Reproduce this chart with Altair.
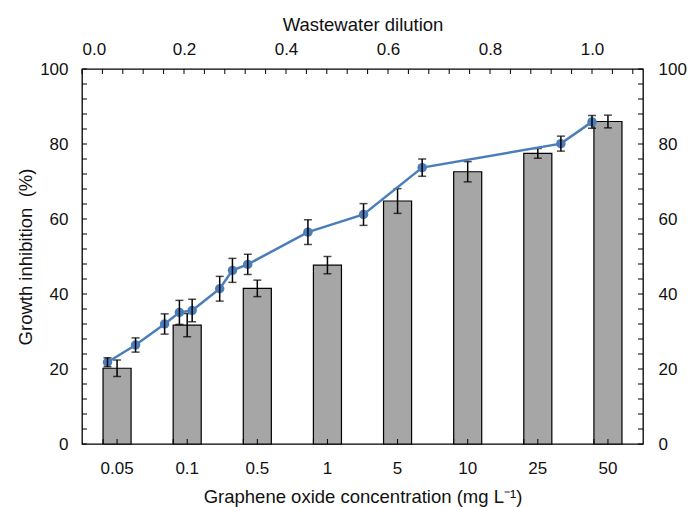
import altair as alt
import pandas as pd

# Graphene oxide exposure: bars on the bottom (categorical) axis
go_conc = ["0.05", "0.1", "0.5", "1", "5", "10", "25", "50"]
go_inhibition = [20.2, 31.7, 41.5, 47.7, 64.8, 72.6, 77.5, 86.0]
go_error = [2.2, 3.1, 2.2, 2.3, 3.3, 2.7, 1.3, 1.7]

# Wastewater dilution series: line on the top (linear) axis
ww_dilution = [0.05, 0.105, 0.162, 0.191, 0.216, 0.27, 0.295, 0.325, 0.443, 0.552, 0.667, 0.939, 1.0]
ww_inhibition = [21.8, 26.4, 32.0, 35.1, 35.6, 41.4, 46.3, 47.9, 56.5, 61.2, 73.7, 80.1, 85.9]
ww_error = [1.2, 1.9, 2.7, 3.2, 3.0, 3.3, 3.2, 2.7, 3.3, 2.9, 2.3, 2.0, 1.7]

# Axis tick positions (ticks are drawn inward, Excel style)
y_label_values = [0, 20, 40, 60, 80, 100]
y_minor_ticks = list(range(0, 101, 4))
top_label_values = [0.0, 0.2, 0.4, 0.6, 0.8, 1.0]
top_minor_ticks = [round(0.04 * i, 2) for i in range(28)]

W, H = 561, 375
TICK = 5
BLUE = "#4a7ebb"
FONT = "Liberation Sans"

bars_df = pd.DataFrame({"conc": go_conc, "inh": go_inhibition, "err": go_error})
bars_df["lo"] = bars_df["inh"] - bars_df["err"]
bars_df["hi"] = bars_df["inh"] + bars_df["err"]

line_df = pd.DataFrame({"dil": ww_dilution, "inh": ww_inhibition, "err": ww_error})
line_df["lo"] = line_df["inh"] - line_df["err"]
line_df["hi"] = line_df["inh"] + line_df["err"]

ytick_df = pd.DataFrame({"t": y_minor_ticks})
xtop_df = pd.DataFrame({"t": top_minor_ticks})
cat_df = pd.DataFrame({"conc": go_conc})

band_scale = alt.Scale(type="band", domain=go_conc, paddingInner=0.6, paddingOuter=0.3)
bottom_axis = alt.Axis(
    orient="bottom", title="Graphene oxide concentration (mg L\u207b\u00b9)",
    labelAngle=0, ticks=False, tickSize=0, domain=False,
    labelPadding=16, titlePadding=11,
)
y_scale = alt.Scale(domain=[0, 100], nice=False, zero=True)
left_axis = alt.Axis(
    orient="left", title="Growth inhibition\u00a0 (%)", values=y_label_values,
    ticks=False, tickSize=0, domain=False, grid=False,
    labelPadding=14, titlePadding=4,
)
top_scale = alt.Scale(domain=[0, 1.1], nice=False, zero=False)
top_axis = alt.Axis(
    orient="top", title="Wastewater dilution", values=top_label_values, format=".1f",
    ticks=False, tickSize=0, domain=False, grid=False,
    labelPadding=11, titlePadding=6,
)
right_axis = alt.Axis(
    orient="right", title=None, values=y_label_values,
    ticks=False, tickSize=0, domain=False, grid=False, labelPadding=15,
)


def xb(field, **kw):
    return alt.X(f"{field}:N", scale=band_scale, axis=bottom_axis, sort=go_conc, **kw)


def yl(field):
    return alt.Y(f"{field}:Q", scale=y_scale, axis=left_axis)


def xt(field):
    return alt.X(f"{field}:Q", scale=top_scale, axis=top_axis)


def yr(field):
    return alt.Y(f"{field}:Q", scale=y_scale, axis=right_axis)


# --- bar group (bottom / left axes) ---
bars = alt.Chart(bars_df).mark_bar(
    color="#a6a6a6", stroke="black", strokeWidth=1.2
).encode(x=xb("conc"), y=yl("inh"))

bar_err = alt.Chart(bars_df).mark_rule(color="black", strokeWidth=1.5).encode(
    x=xb("conc"), y=yl("lo"), y2="hi:Q"
)
bar_cap_hi = alt.Chart(bars_df).mark_tick(
    color="black", thickness=1.5, size=8, orient="horizontal"
).encode(x=xb("conc"), y=yl("hi"))
bar_cap_lo = alt.Chart(bars_df).mark_tick(
    color="black", thickness=1.5, size=8, orient="horizontal"
).encode(x=xb("conc"), y=yl("lo"))

left_ticks = alt.Chart(ytick_df).mark_rule(color="black", strokeWidth=1).encode(
    y=yl("t"), x=alt.value(0), x2=alt.value(TICK)
)
bottom_ticks_mid = alt.Chart(cat_df).mark_rule(color="black", strokeWidth=1).encode(
    x=xb("conc", bandPosition=0.5), y=alt.value(H - TICK), y2=alt.value(H)
)
bottom_ticks_edge = alt.Chart(cat_df).mark_rule(color="black", strokeWidth=1).encode(
    x=xb("conc", bandPosition=0), y=alt.value(H - TICK), y2=alt.value(H)
)

bar_group = alt.layer(
    bars, bottom_ticks_mid, bottom_ticks_edge, left_ticks, bar_err, bar_cap_hi, bar_cap_lo
)

# --- line group (top / right axes) ---
line = alt.Chart(line_df).mark_line(color=BLUE, strokeWidth=2.5).encode(
    x=xt("dil"), y=yr("inh")
)
points = alt.Chart(line_df).mark_circle(color=BLUE, size=90, opacity=1).encode(
    x=xt("dil"), y=yr("inh")
)
line_err = alt.Chart(line_df).mark_rule(color="black", strokeWidth=1.5).encode(
    x=xt("dil"), y=yr("lo"), y2="hi:Q"
)
line_cap_hi = alt.Chart(line_df).mark_tick(
    color="black", thickness=1.5, size=8, orient="horizontal"
).encode(x=xt("dil"), y=yr("hi"))
line_cap_lo = alt.Chart(line_df).mark_tick(
    color="black", thickness=1.5, size=8, orient="horizontal"
).encode(x=xt("dil"), y=yr("lo"))

top_ticks = alt.Chart(xtop_df).mark_rule(color="black", strokeWidth=1).encode(
    x=xt("t"), y=alt.value(0), y2=alt.value(TICK)
)
right_ticks = alt.Chart(ytick_df).mark_rule(color="black", strokeWidth=1).encode(
    y=yr("t"), x=alt.value(W - TICK), x2=alt.value(W)
)

line_group = alt.layer(
    top_ticks, right_ticks, line, points, line_err, line_cap_hi, line_cap_lo
)

chart = (
    alt.layer(bar_group, line_group)
    .resolve_scale(x="independent", y="independent")
    .properties(
        width=W,
        height=H,
        autosize=alt.AutoSizeParams(type="none"),
        padding={"left": 82, "top": 69, "right": 46, "bottom": 63},
    )
    .configure(font=FONT, background="white")
    .configure_view(stroke="black", strokeWidth=1.3)
    .configure_axis(
        labelFont=FONT, titleFont=FONT,
        labelFontSize=17, titleFontSize=18.5,
        labelColor="#111111", titleColor="#111111",
        titleFontWeight="normal",
    )
)

chart.save("out.html", embed_options={"renderer": "svg", "actions": False})
